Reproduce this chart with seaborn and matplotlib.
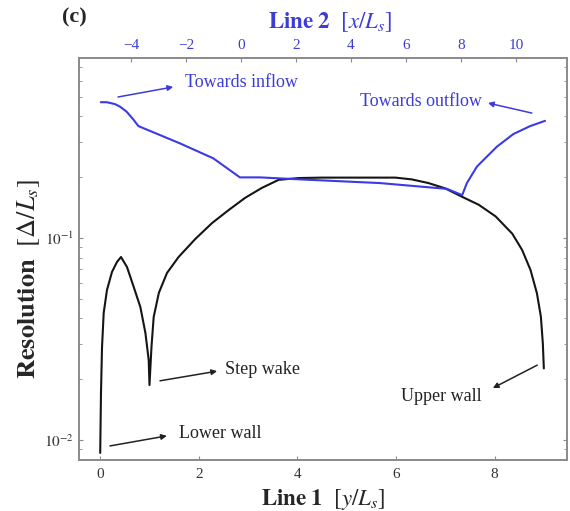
import matplotlib
matplotlib.use("Agg")
import matplotlib.pyplot as plt
import seaborn as sns
import numpy as np
import pandas as pd

# ---- data ----
line1_y = [0.0, 0.016, 0.037, 0.071, 0.138, 0.239, 0.341, 0.422, 0.544, 0.68,
           0.815, 0.917, 0.984, 1.0, 1.04, 1.085, 1.19, 1.355, 1.59, 1.93,
           2.27, 2.61, 2.94, 3.28, 3.62, 4.03, 4.5, 5.0, 5.5, 5.99, 6.32,
           6.66, 7.0, 7.34, 7.68, 8.02, 8.36, 8.56, 8.73, 8.86, 8.94, 8.98, 9.0]
line1_res = [0.00863, 0.0171, 0.0288, 0.0426, 0.0553, 0.0679, 0.0761, 0.0805,
             0.0718, 0.0572, 0.0455, 0.0339, 0.0249, 0.0187, 0.0288, 0.0406,
             0.0535, 0.0671, 0.0805, 0.0989, 0.1186, 0.1377, 0.158, 0.177,
             0.194, 0.198, 0.199, 0.199, 0.199, 0.199, 0.195, 0.187, 0.176,
             0.160, 0.146, 0.128, 0.105, 0.0872, 0.0694, 0.0532, 0.0408,
             0.030, 0.0226]

line2_x = [-5.10, -4.88, -4.58, -4.40, -4.16, -3.92, -3.73, -2.22, -1.01,
           -0.04, 0.69, 2.15, 5.05, 7.49, 8.04, 8.21, 8.57, 8.69, 9.3, 9.9,
           10.51, 11.05]
line2_res = [0.470, 0.470, 0.460, 0.447, 0.422, 0.387, 0.358, 0.294, 0.248,
             0.1995, 0.1995, 0.195, 0.187, 0.175, 0.163, 0.187, 0.225, 0.234,
             0.283, 0.327, 0.358, 0.380]

bottom_ticks = [0, 2, 4, 6, 8]
top_ticks = [-4, -2, 0, 2, 4, 6, 8, 10]

BLUE = "#3a3ae6"
BLUE_TXT = "#3c3cd8"

sns.set_style("ticks")
plt.rcParams["font.family"] = ["Liberation Serif", "DejaVu Serif"]
plt.rcParams["mathtext.fontset"] = "stix"

fig = plt.figure(figsize=(5.7, 5.11), dpi=100)
ax = fig.add_axes([79/570, 51/511, 488/570, 402/511])

df1 = pd.DataFrame({"y": line1_y, "res": line1_res})
df2 = pd.DataFrame({"x": line2_x, "res": line2_res})

sns.lineplot(data=df1, x="y", y="res", ax=ax, color="#151515", lw=1.5,
             sort=False, estimator=None)
ax.set_yscale("log")
ax.set_xlim(-0.43, 9.47)
ax.set_ylim(0.00796, 0.778)
ax.set_xticks(bottom_ticks)
ax.set_xticklabels([str(t) for t in bottom_ticks])
ax.set_yticks([0.01, 0.1])
ax.set_yticklabels([r"$10^{-2}$", r"$10^{-1}$"])

ax2 = ax.twiny()
sns.lineplot(data=df2, x="x", y="res", ax=ax2, color=BLUE, lw=1.5,
             sort=False, estimator=None)
ax2.set_xlim(-5.89, 11.85)
ax2.set_xticks(top_ticks)
ax2.set_xticklabels([("\u2212" + str(-t)) if t < 0 else str(t) for t in top_ticks])
ax2.set_ylim(0.00796, 0.778)

for a in (ax, ax2):
    for s in a.spines.values():
        s.set_color("#8a8a8a")
        s.set_linewidth(1.2)
    a.tick_params(direction="in", length=3, width=0.8, color="#8a8a8a",
                  labelsize=11, which="major")
    a.tick_params(direction="in", length=2, width=0.6, color="#8a8a8a",
                  which="minor")
ax.tick_params(axis="y", which="minor", left=True, right=True)
ax.tick_params(axis="y", which="major", right=True)
ax.yaxis.set_minor_formatter(matplotlib.ticker.NullFormatter())
ax.tick_params(axis="x", labelcolor="#333333", pad=6)
ax.tick_params(axis="y", labelcolor="#333333")
ax2.tick_params(axis="x", labelcolor=BLUE_TXT, pad=4)

ax.set_xlabel(r"$\mathbf{Line\ 1}\ \ [y/L_s]$", fontsize=16.5, labelpad=4)
ax.set_ylabel(r"$\mathbf{Resolution}\ \ [\Delta/L_s]$", fontsize=19)
ax.yaxis.set_label_coords(-0.075, 0.45)
ax2.set_xlabel(r"$\mathbf{Line\ 2}\ \ [x/L_s]$", fontsize=16.5, color=BLUE_TXT)
ax2.xaxis.set_label_coords(0.515, 1.075)

fig.text(62/570, 1 - 17/511, "(c)", fontsize=16, fontweight="bold",
         va="center", ha="left")

arrow_k = dict(arrowstyle="-|>", lw=1.1, mutation_scale=8, shrinkA=0, shrinkB=0)

def note(text, tail, head, txt_pos, ha, color):
    ax.annotate("", xy=head, xytext=tail, xycoords="axes fraction",
                textcoords="axes fraction",
                arrowprops=dict(arrow_k, color=color))
    ax.text(txt_pos[0], txt_pos[1], text, transform=ax.transAxes,
            fontsize=13, color=color, ha=ha, va="center")

note("Towards inflow", (0.080, 0.903), (0.193, 0.928), (0.217, 0.938), "left", BLUE_TXT)
note("Towards outflow", (0.928, 0.863), (0.838, 0.888), (0.826, 0.893), "right", BLUE_TXT)
note("Step wake", (0.166, 0.197), (0.283, 0.221), (0.299, 0.226), "left", "#222222")
note("Lower wall", (0.0635, 0.035), (0.180, 0.060), (0.205, 0.067), "left", "#222222")
note("Upper wall", (0.939, 0.236), (0.848, 0.179), (0.826, 0.157), "right", "#222222")

fig.savefig("out.png", dpi=100)
